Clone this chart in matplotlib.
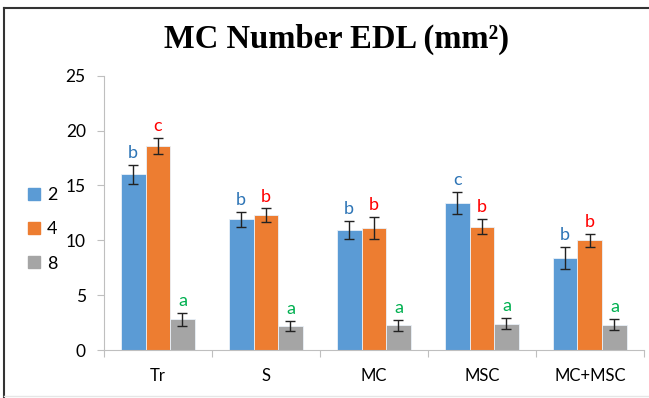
import numpy as np
import matplotlib.pyplot as plt
from matplotlib.lines import Line2D

# treatment groups and time points
groups = ['Tr', 'S', 'MC', 'MSC', 'MC+MSC']
series = ['2', '4', '8']

means_2 = [16.0, 11.9, 10.95, 13.4, 8.35]
means_4 = [18.6, 12.3, 11.1, 11.25, 10.0]
means_8 = [2.8, 2.2, 2.25, 2.4, 2.3]

err_2 = [0.9, 0.65, 0.85, 1.0, 1.0]
err_4 = [0.75, 0.6, 1.0, 0.65, 0.6]
err_8 = [0.6, 0.45, 0.5, 0.5, 0.5]

letters_2 = ['b', 'b', 'b', 'c', 'b']
letters_4 = ['c', 'b', 'b', 'b', 'b']
letters_8 = ['a', 'a', 'a', 'a', 'a']

bar_colors = ['#5B9BD5', '#ED7D31', '#A5A5A5']
letter_colors = ['#2E75B6', '#FF0000', '#00B050']

plt.rcParams['font.family'] = ['Lato', 'DejaVu Sans']

fig = plt.figure(figsize=(6.49, 3.98), dpi=100)
ax = fig.add_axes([0.160, 0.1206, 0.832, 0.6892])

x = np.arange(len(groups))
w = 0.228
all_means = [means_2, means_4, means_8]
all_errs = [err_2, err_4, err_8]
all_letters = [letters_2, letters_4, letters_8]

for i in range(3):
    pos = x + (i - 1) * w
    ax.bar(pos, all_means[i], w, color=bar_colors[i], edgecolor='#EAF1F8',
           linewidth=0.6, label=series[i], zorder=2)
    ax.errorbar(pos, all_means[i], yerr=all_errs[i], fmt='none', ecolor='#222222',
                elinewidth=1.0, capsize=3.5, capthick=1.0, zorder=3)
    for p, m, e, t in zip(pos, all_means[i], all_errs[i], all_letters[i]):
        ax.annotate(t, (p, m + e), xytext=(0, 5), textcoords='offset points',
                    ha='center', va='baseline', fontsize=13, color=letter_colors[i])

ax.set_xlim(-0.5, len(groups) - 0.5)
ax.set_ylim(0, 25)
ax.set_yticks([0, 5, 10, 15, 20, 25])
ax.set_xticks(np.arange(len(groups) + 1) - 0.5, minor=False)
ax.set_xticklabels([])
ax.set_xticks(x, minor=True)
ax.set_xticklabels(groups, minor=True)
ax.tick_params(axis='x', which='major', length=5, color='#BFBFBF', direction='out')
ax.tick_params(axis='x', which='minor', length=0, pad=13, labelsize=12)
ax.tick_params(axis='y', length=5, color='#BFBFBF', labelsize=12.5, pad=8)

for s in ['top', 'right']:
    ax.spines[s].set_visible(False)
ax.spines['left'].set_color('#BFBFBF')
ax.spines['bottom'].set_color('#BFBFBF')

fig.text(0.518, 0.90, 'MC Number EDL (mm²)', ha='center', va='center',
         fontsize=23.5, fontweight='bold', family='Liberation Serif')

# legend on the left side
handles = [plt.Rectangle((0, 0), 1, 1, color=c) for c in bar_colors]
fig.legend(handles, series, loc='upper left', bbox_to_anchor=(0.018, 0.57),
           frameon=False, fontsize=13, handlelength=0.65, handleheight=0.65,
           handletextpad=0.4, labelspacing=1.0)

# frame lines around the chart area
fig.add_artist(Line2D([0.006, 1.0], [0.98, 0.98], color='#333333', lw=1.5))
fig.add_artist(Line2D([0.006, 0.006], [0.0, 0.98], color='#333333', lw=1.5))
fig.add_artist(Line2D([0.006, 1.0], [0.006, 0.006], color='#E6E6E6', lw=1.0))

fig.savefig('out.png', dpi=100)
